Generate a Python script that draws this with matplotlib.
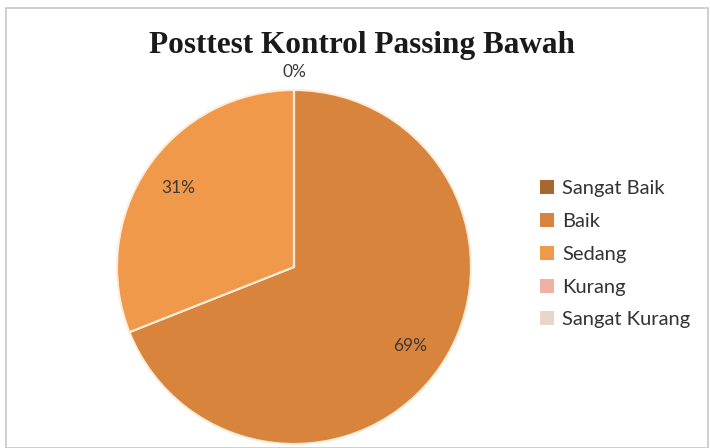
import numpy as np
import matplotlib.pyplot as plt
import matplotlib.patches as mpatches

kategori = ['Sangat Baik', 'Baik', 'Sedang', 'Kurang', 'Sangat Kurang']
persen = [0, 69, 31, 0, 0]
warna = ['#a5692f', '#d9843d', '#f1994b', '#f1b1a0', '#ead6c9']

fig = plt.figure(figsize=(7.1, 4.48), dpi=100)
fig.patch.set_facecolor('white')

# bingkai abu-abu tipis
fig.patches.append(mpatches.Rectangle((6/710, 0), 702/710, 440/448, transform=fig.transFigure,
                                      fill=False, edgecolor='#c8c8c8', linewidth=1.2))

ax = fig.add_axes([117/710, 4/448, 354/710, 354/448])
wedges, _ = ax.pie(persen, colors=warna, startangle=90, counterclock=False,
                   wedgeprops=dict(edgecolor='#fbeedd', linewidth=1.5))
ax.set_xlim(-1, 1)
ax.set_ylim(-1, 1)
ax.set_aspect('equal')
ax.axis('off')

# label persen
for i, w in enumerate(wedges):
    if persen[i] == 0 and i > 0:
        continue
    mid = np.deg2rad((w.theta1 + w.theta2) / 2)
    r = 0.79 if persen[i] > 0 else 1.1
    ax.text(r * np.cos(mid), r * np.sin(mid), f"{persen[i]}%", ha='center', va='center',
            fontsize=12.5, family='Lato', color='#3a3a3a', clip_on=False)

fig.text(362/710, 1 - 46/448, 'Posttest Kontrol Passing Bawah', ha='center', va='center',
         fontsize=22.5, fontweight='bold', family='Liberation Serif', color='#1a1a1a')

handles = [mpatches.Patch(facecolor=c, edgecolor='none') for c in warna]
leg = fig.legend(handles, kategori, loc='upper left', bbox_to_anchor=(522/710, 1 - 162/448),
                 frameon=False, prop={'family': 'Lato', 'size': 14.5}, handlelength=0.7,
                 handleheight=0.7, handletextpad=0.4, labelspacing=0.78)
for t in leg.get_texts():
    t.set_color('#333333')

fig.savefig('out.png', dpi=100)
